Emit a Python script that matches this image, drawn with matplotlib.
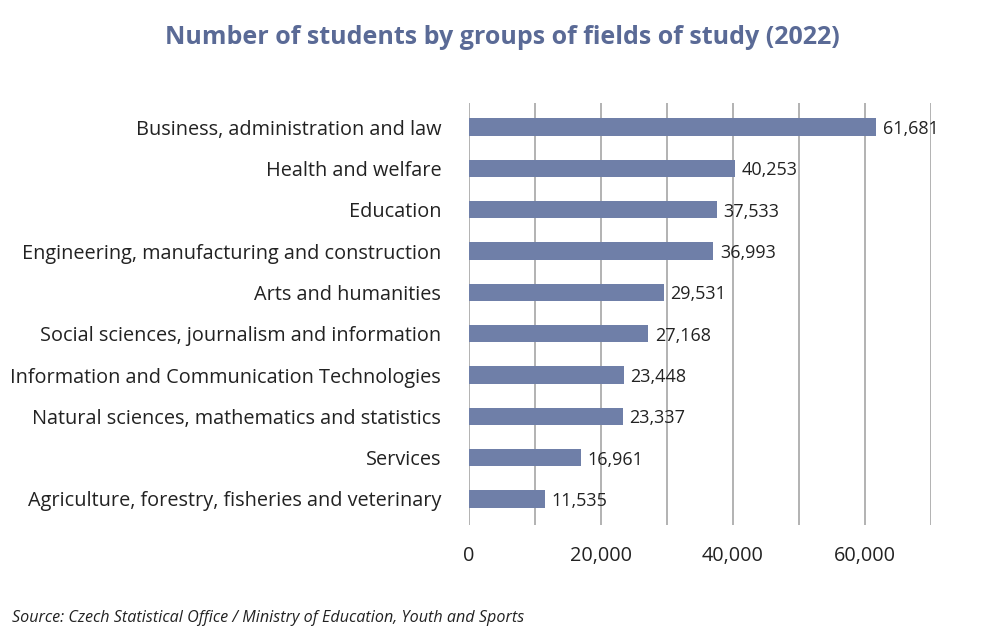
import matplotlib.pyplot as plt

fields = [
    "Business, administration and law",
    "Health and welfare",
    "Education",
    "Engineering, manufacturing and construction",
    "Arts and humanities",
    "Social sciences, journalism and information",
    "Information and Communication Technologies",
    "Natural sciences, mathematics and statistics",
    "Services",
    "Agriculture, forestry, fisheries and veterinary",
]
students = [61681, 40253, 37533, 36993, 29531, 27168, 23448, 23337, 16961, 11535]
xticks = [0, 20000, 40000, 60000]

plt.rcParams['font.family'] = ['Open Sans', 'DejaVu Sans']

fig = plt.figure(figsize=(10, 6.41), dpi=100)
ax = fig.add_axes([0.469, 0.181, 0.462, 0.658])

pos = range(len(fields))
ax.barh(pos, students, height=0.42, color='#6f7fa8', zorder=3)
for y, v in zip(pos, students):
    ax.text(v + 1000, y, f"{v:,}", va='center_baseline', ha='left',
            fontsize=13, color='#222222')

ax.set_xlim(0, 70000)
ax.set_ylim(9.63, -0.58)
ax.set_xticks(range(0, 70001, 10000))
ax.set_xticklabels([f"{t:,}" if t in xticks else "" for t in range(0, 70001, 10000)],
                   fontsize=14.3, color='#222222')
ax.xaxis.grid(True, color='#a6a6a6', linewidth=1.2, zorder=0)
ax.tick_params(axis='x', length=0, pad=15)
ax.tick_params(axis='y', length=0, pad=20)
ax.set_yticks(list(pos))
ax.set_yticklabels(fields, fontsize=14.3, color='#222222')
for s in ax.spines.values():
    s.set_visible(False)

fig.text(0.502, 0.942, "Number of students by groups of fields of study (2022)",
         ha='center', va='center', fontsize=18, fontweight='bold', color='#5a6a96')
fig.text(0.012, 0.036, "Source: Czech Statistical Office / Ministry of Education, Youth and Sports",
         ha='left', va='center', fontsize=11.6, style='italic', color='#222222')

fig.savefig("out.png", dpi=100, facecolor='white')
